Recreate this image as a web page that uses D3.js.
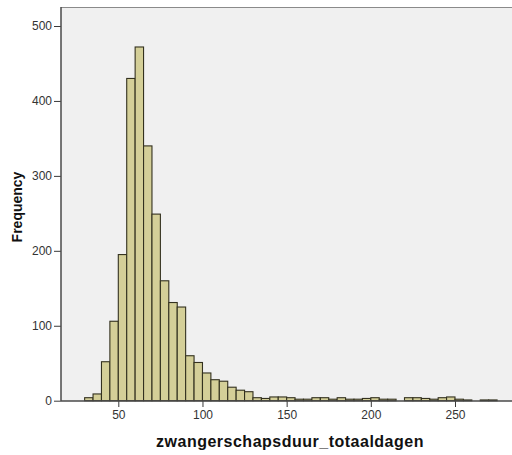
<!DOCTYPE html>
<html>
<head>
<meta charset="utf-8">
<script src="https://cdn.jsdelivr.net/npm/d3@7"></script>
<style>
  html, body { margin: 0; padding: 0; background: #ffffff; }
  svg { display: block; }
</style>
</head>
<body>
<svg id="chart" width="512" height="455"></svg>
<script>
// Histogram bins (lower edge, days) and frequencies
const binStarts = [30, 35, 40, 45, 50, 55, 60, 65, 70, 75, 80, 85, 90, 95, 100, 105, 110, 115, 120, 125,
                   130, 135, 140, 145, 150, 155, 160, 165, 170, 175, 180, 185, 190, 195, 200, 205, 210, 215,
                   220, 225, 230, 235, 240, 245, 250, 255, 260, 265, 270];
const frequencies = [4, 9, 52, 106, 195, 430, 472, 340, 249, 160, 131, 125, 60, 51, 37, 28, 26, 18, 14, 12,
                     4, 3, 5, 5, 4, 2, 2, 4, 4, 2, 4, 2, 2, 3, 4, 2, 2, 0,
                     4, 4, 3, 2, 4, 5, 2, 1, 0, 1, 1];
const binWidth = 5;
const xTicks = [50, 100, 150, 200, 250];
const yTicks = [0, 100, 200, 300, 400, 500];
const xTitle = "zwangerschapsduur_totaaldagen";
const yTitle = "Frequency";

const svg = d3.select("#chart");
const plot = { left: 61, right: 512, top: 7, bottom: 401 };

const x = d3.scaleLinear().domain([50, 250]).range([118.3, 455]);
const y = d3.scaleLinear().domain([0, 500]).range([400.7, 26]);

// plot background
svg.append("rect")
  .attr("x", plot.left).attr("y", plot.top)
  .attr("width", plot.right - plot.left + 2).attr("height", plot.bottom - plot.top)
  .attr("fill", "#f0f0f0");
svg.append("line")
  .attr("x1", plot.left).attr("x2", plot.right)
  .attr("y1", plot.top + 0.5).attr("y2", plot.top + 0.5)
  .attr("stroke", "#8a8a8a").attr("stroke-width", 1);

const data = binStarts.map((s, i) => ({ start: s, count: frequencies[i] }));

svg.append("g").selectAll("rect")
  .data(data.filter(d => d.count > 0))
  .join("rect")
  .attr("x", d => x(d.start))
  .attr("width", d => x(d.start + binWidth) - x(d.start))
  .attr("y", d => y(d.count))
  .attr("height", d => y(0) - y(d.count))
  .attr("fill", "#d4cf98")
  .attr("stroke", "#33311f")
  .attr("stroke-width", 1.1);

// axes
const xAxis = d3.axisBottom(x).tickValues(xTicks).tickSize(6).tickSizeOuter(0).tickPadding(3);
const gx = svg.append("g").attr("transform", `translate(0,${plot.bottom})`).call(xAxis);
gx.select(".domain").remove();
gx.append("line").attr("x1", plot.left).attr("x2", plot.right).attr("y1", 0).attr("y2", 0)
  .attr("stroke", "#4a4a4a").attr("stroke-width", 1.5);

const yAxis = d3.axisLeft(y).tickValues(yTicks).tickSize(7).tickSizeOuter(0).tickPadding(2);
const gy = svg.append("g").attr("transform", `translate(${plot.left},0)`).call(yAxis);
gy.select(".domain").remove();
gy.append("line").attr("x1", 0).attr("x2", 0).attr("y1", plot.top).attr("y2", plot.bottom)
  .attr("stroke", "#4a4a4a").attr("stroke-width", 1.5);

svg.selectAll(".tick line").attr("stroke", "#3a3a3a");
svg.selectAll(".tick text")
  .attr("font-family", "'Liberation Sans', Arial, sans-serif")
  .attr("font-size", 12)
  .attr("fill", "#333");

svg.append("text")
  .attr("x", 290).attr("y", 447)
  .attr("text-anchor", "middle")
  .attr("font-family", "'Liberation Sans', Arial, sans-serif")
  .attr("font-weight", "bold")
  .attr("font-size", 16)
  .attr("letter-spacing", 0.5)
  .attr("fill", "#111")
  .text(xTitle);

svg.append("text")
  .attr("transform", "translate(22,207) rotate(-90)")
  .attr("text-anchor", "middle")
  .attr("font-family", "'Liberation Sans', Arial, sans-serif")
  .attr("font-weight", "bold")
  .attr("font-size", 14)
  .attr("fill", "#111")
  .text(yTitle);
</script>
</body>
</html>
